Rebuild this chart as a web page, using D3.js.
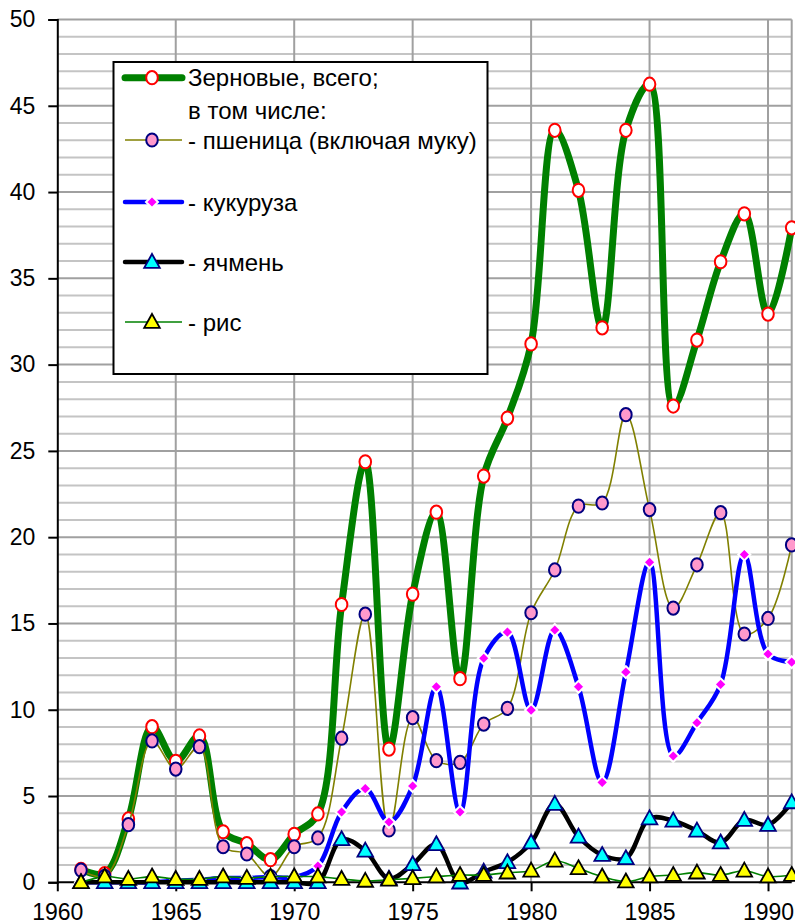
<!DOCTYPE html>
<html><head><meta charset="utf-8">
<script src="https://cdn.jsdelivr.net/npm/d3@7"></script>
<style>
html,body{margin:0;padding:0;background:#fff;}
svg{display:block;}
text{font-family:"Liberation Sans",Arial,sans-serif;fill:#000;}
</style></head>
<body>
<svg id="chart" width="795" height="924"></svg>
<script>
const years = d3.range(1961, 1992);
const total  = [0.75,0.5,3.67,9.02,7.01,8.48,2.93,2.24,1.31,2.78,3.96,16.1,24.37,7.72,16.7,21.45,11.8,23.54,26.9,31.2,43.58,40.1,32.13,43.58,46.25,27.6,31.42,35.96,38.74,32.93,37.93];
const wheat  = [0.7,0.35,3.34,8.19,6.56,7.86,2.06,1.64,0.33,2.06,2.57,8.35,15.54,3.03,9.54,7.05,6.95,9.17,10.08,15.62,18.1,21.8,21.98,27.1,21.6,15.89,18.4,21.42,14.39,15.29,19.55];
const maize  = [0,0,0,0,0.1,0.15,0.25,0.25,0.3,0.3,0.94,4.07,5.43,3.49,5.58,11.33,4.07,12.98,14.5,9.98,14.62,11.33,5.79,12.18,18.55,7.32,9.25,11.47,19.0,13.23,12.76];
const barley = [0,0,0,0,0,0,0,0,0,0,0,2.49,1.83,0.2,1.04,2.2,-0.02,0.61,1.16,2.3,4.54,2.64,1.58,1.39,3.7,3.57,2.99,2.3,3.61,3.32,4.63];
const rice   = [0,0.33,0.19,0.33,0.19,0.19,0.33,0.25,0.33,0.33,0.33,0.19,0.08,0.15,0.23,0.33,0.42,0.42,0.56,0.67,1.25,0.81,0.33,0.04,0.33,0.42,0.56,0.42,0.67,0.33,0.42];
const yTicks = [0,5,10,15,20,25,30,35,40,45,50];
const xTicks = [1960,1965,1970,1975,1980,1985,1990];
const legendLabels = ["Зерновые, всего;","в том числе:","- пшеница (включая муку)","- кукуруза","- ячмень","- рис"];

const svg = d3.select("#chart");
const x = d3.scaleLinear().domain([1960,1991]).range([57.3,791.7]);
const y = d3.scaleLinear().domain([0,50]).range([882.3,19.5]);

// grid
const g = svg.append("g");
g.selectAll(".minor").data(d3.range(1,50).filter(v=>v%5!==0)).join("line")
  .attr("x1",x(1960)).attr("x2",x(1991)).attr("y1",d=>y(d)).attr("y2",d=>y(d))
  .attr("stroke","#c4c4c4").attr("stroke-width",2);
g.selectAll(".major").data(yTicks.filter(v=>v>0)).join("line")
  .attr("x1",x(1960)).attr("x2",x(1991)).attr("y1",d=>y(d)).attr("y2",d=>y(d))
  .attr("stroke","#a0a0a0").attr("stroke-width",2);
g.selectAll(".vgrid").data(xTicks.filter(v=>v>1960).concat([1991])).join("line")
  .attr("x1",d=>x(d)).attr("x2",d=>x(d)).attr("y1",y(50)).attr("y2",y(0))
  .attr("stroke","#a0a0a0").attr("stroke-width",2);

// axes
const yAxis = d3.axisLeft(y).tickValues(yTicks).tickSize(9).tickPadding(13).tickFormat(d3.format("d"));
const ya = svg.append("g").attr("transform",`translate(${x(1960)},0)`).call(yAxis);
ya.select(".domain").attr("stroke","#000").attr("stroke-width",2);
ya.selectAll(".tick line").attr("stroke","#000").attr("stroke-width",2);
ya.selectAll("text").style("font-size","23px").attr("fill","#000");

const xAxis = d3.axisBottom(x).tickValues(xTicks).tickSize(9).tickPadding(12).tickFormat(d3.format("d"));
const xa = svg.append("g").attr("transform",`translate(0,${y(0)})`).call(xAxis);
xa.select(".domain").attr("stroke","#000").attr("stroke-width",2).attr("d",`M${x(1960)},0H${x(1991)}`);
xa.selectAll(".tick line").attr("stroke","#000").attr("stroke-width",2);
xa.selectAll("text").style("font-size","23px").attr("fill","#000");

const curve = d3.curveCatmullRom.alpha(0.5);
const line = d3.line().x((d,i)=>x(years[i])).y(d=>y(d)).curve(curve);

function circleMarkers(sel, data, fill, stroke){
  sel.selectAll("ellipse").data(data).join("ellipse")
    .attr("cx",(d,i)=>x(years[i])).attr("cy",d=>y(d)).attr("rx",5.8).attr("ry",6.6)
    .attr("fill",fill).attr("stroke",stroke).attr("stroke-width",2);
}
function triPath(cx,cy,s){ return `M${cx},${cy-s*0.62}L${cx+s*0.6},${cy+s*0.45}L${cx-s*0.6},${cy+s*0.45}Z`; }
function triMarkers(sel, data, fill, stroke){
  sel.selectAll("path.m").data(data).join("path").attr("class","m")
    .attr("d",(d,i)=>triPath(x(years[i]),y(d),13))
    .attr("fill",fill).attr("stroke",stroke).attr("stroke-width",1.8).attr("stroke-linejoin","miter");
}
function diamond(cx,cy,s){ return `M${cx},${cy-s}L${cx+s},${cy}L${cx},${cy+s}L${cx-s},${cy}Z`; }

// total
const gT = svg.append("g");
gT.append("path").attr("d",line(total)).attr("fill","none").attr("stroke","#008000").attr("stroke-width",7).attr("stroke-linejoin","round");
circleMarkers(gT, total, "#fff", "#ff0000");
// wheat
const gW = svg.append("g");
gW.append("path").attr("d",line(wheat)).attr("fill","none").attr("stroke","#808000").attr("stroke-width",1.6);
circleMarkers(gW, wheat, "#ff99cc", "#000080");
// maize
const gM = svg.append("g");
gM.append("path").attr("d",line(maize)).attr("fill","none").attr("stroke","#0000ff").attr("stroke-width",4.5);
gM.selectAll("path.m").data(maize).join("path").attr("class","m")
  .attr("d",(d,i)=>diamond(x(years[i]),y(d),6)).attr("fill","#ff00ff").attr("stroke","#fff").attr("stroke-width",2);
// barley
const gB = svg.append("g");
gB.append("path").attr("d",line(barley)).attr("fill","none").attr("stroke","#000").attr("stroke-width",4.5);
triMarkers(gB, barley, "#00ffff", "#000080");
// rice
const gR = svg.append("g");
gR.append("path").attr("d",line(rice)).attr("fill","none").attr("stroke","#008000").attr("stroke-width",1.6);
triMarkers(gR, rice, "#ffff00", "#000");

// legend
const L = svg.append("g");
L.append("rect").attr("x",113.5).attr("y",62).attr("width",374).attr("height",312)
  .attr("fill","#fff").attr("stroke","#000").attr("stroke-width",2);
const lx1 = 125, lx2 = 182, lm = 152, tx = 188;
const rows = [
  {y:77.7, stroke:"#008000", w:7, type:"circle", fill:"#fff", ms:"#ff0000"},
  {y:140, stroke:"#808000", w:1.6, type:"circle", fill:"#ff99cc", ms:"#000080"},
  {y:202, stroke:"#0000ff", w:4.5, type:"diamond"},
  {y:262, stroke:"#000", w:4.5, type:"tri", fill:"#00ffff", ms:"#000080"},
  {y:322, stroke:"#008000", w:1.6, type:"tri", fill:"#ffff00", ms:"#000"}
];
rows.forEach(r=>{
  L.append("line").attr("x1",lx1).attr("x2",lx2).attr("y1",r.y).attr("y2",r.y)
    .attr("stroke",r.stroke).attr("stroke-width",r.w).attr("stroke-linecap",r.w>4?"round":"butt");
  if(r.type==="circle") L.append("ellipse").attr("cx",lm).attr("cy",r.y).attr("rx",5.8).attr("ry",6.6).attr("fill",r.fill).attr("stroke",r.ms).attr("stroke-width",2);
  if(r.type==="diamond") L.append("path").attr("d",diamond(lm,r.y,6)).attr("fill","#ff00ff").attr("stroke","#fff").attr("stroke-width",2);
  if(r.type==="tri") L.append("path").attr("d",triPath(lm,r.y,13)).attr("fill",r.fill).attr("stroke",r.ms).attr("stroke-width",1.8);
});
const textY = [77.7,110.5,140,202,262,322];
L.selectAll("text.lg").data(legendLabels).join("text").attr("class","lg")
  .attr("x",tx).attr("y",(d,i)=>textY[i]).attr("dy","0.36em")
  .style("font-size","24px").text(d=>d);
</script>
</body></html>
